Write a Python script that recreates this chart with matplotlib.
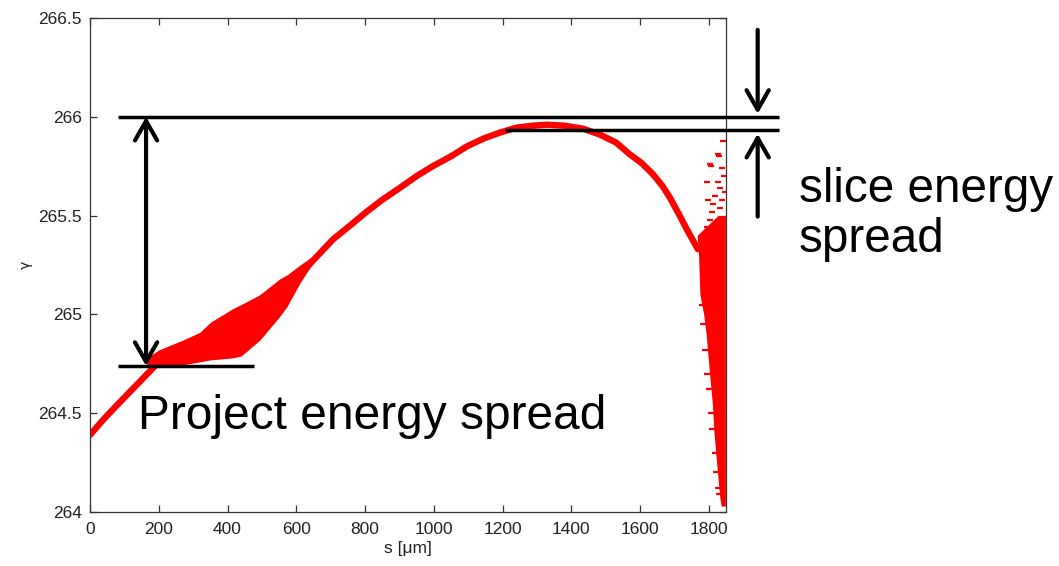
import matplotlib
matplotlib.use("Agg")
import matplotlib.pyplot as plt
from matplotlib.ticker import FuncFormatter

# ---------------- data ----------------
# centre line of the thin beam band: s [um], gamma
s_center = [0, 40, 78, 145, 195, 300, 450, 550, 631, 707, 760, 805, 850, 901,
            950, 997, 1050, 1096, 1145, 1192, 1240, 1288, 1329, 1380, 1434,
            1483, 1530, 1570, 1605, 1637, 1665, 1687, 1712, 1736, 1752, 1768]
g_center = [264.39, 264.47, 264.54, 264.66, 264.75, 264.83, 264.98, 265.10,
            265.24, 265.38, 265.455, 265.52, 265.58, 265.64, 265.70, 265.75,
            265.80, 265.85, 265.89, 265.92, 265.945, 265.955, 265.96, 265.955,
            265.94, 265.91, 265.87, 265.81, 265.765, 265.71, 265.65, 265.59,
            265.51, 265.43, 265.38, 265.33]

# broadened region (lower / upper envelope) around s = 170..710
s_bulge = [165, 200, 270, 320, 350, 416, 440, 494, 552, 573, 611, 660, 707]
g_bulge_low = [264.74, 264.73, 264.745, 264.76, 264.77, 264.78, 264.79,
               264.87, 264.99, 265.04, 265.16, 265.29, 265.37]
g_bulge_high = [264.78, 264.82, 264.87, 264.91, 264.96, 265.03, 265.05,
                265.10, 265.18, 265.20, 265.25, 265.31, 265.40]

# dense tail at the bunch head: gamma levels and left / right s edge
g_tail = [265.50, 265.40, 265.30, 265.10, 265.00, 264.90, 264.74, 264.55,
          264.40, 264.20, 264.07, 264.03]
s_tail_left = [1826, 1766, 1770, 1774, 1785, 1792, 1800, 1810, 1815, 1825,
               1832, 1836]
s_tail_right = [1848] * len(g_tail)

# sparse particles around the tail
s_sparse = [1841, 1826, 1830, 1803, 1805, 1838, 1794, 1826, 1832, 1817, 1797,
            1838, 1809, 1832, 1803, 1826, 1794, 1817, 1843, 1812, 1846,
            1780, 1783, 1790, 1795, 1800, 1806, 1810, 1818, 1822, 1826, 1830]
g_sparse = [265.88, 265.81, 265.80, 265.76, 265.75, 265.74, 265.67, 265.67,
            265.64, 265.60, 265.58, 265.58, 265.52, 265.54, 265.48, 265.46,
            265.44, 265.41, 265.70, 265.56, 265.62,
            265.05, 264.95, 264.82, 264.70, 264.62, 264.50, 264.42, 264.30,
            264.20, 264.12, 264.09]

# tick values
x_ticks = [0, 200, 400, 600, 800, 1000, 1200, 1400, 1600, 1800]
y_ticks = [264, 264.5, 265, 265.5, 266, 266.5]

# annotation levels
g_proj_top = 266.0
g_slice_low = 265.932
g_proj_low = 264.739

# ---------------- figure ----------------
fig = plt.figure(figsize=(10.59, 5.66), dpi=100)
ax = fig.add_axes([0.085, 0.0954, 0.6006, 0.8728])

red = "#ff0000"
ax.plot(s_center, g_center, color=red, lw=4.6, solid_capstyle="round",
        solid_joinstyle="round", zorder=2)
ax.fill_between(s_bulge, g_bulge_low, g_bulge_high, color=red, lw=0, zorder=2)
ax.fill_betweenx(g_tail, s_tail_left, s_tail_right, color=red, lw=0, zorder=2)
ax.plot(s_sparse, g_sparse, ls="none", marker="_", ms=5, mew=1.6, color=red,
        zorder=2)

ax.set_xlim(0, 1850)
ax.set_ylim(264, 266.5)
ax.set_xticks(x_ticks)
ax.set_yticks(y_ticks)
ax.yaxis.set_major_formatter(FuncFormatter(lambda v, p: "%g" % v))

tick_family = ["Liberation Sans", "DejaVu Sans"]
for lab in ax.get_xticklabels() + ax.get_yticklabels():
    lab.set_fontfamily(tick_family)
    lab.set_fontsize(12.5)
    lab.set_color("#222222")
ax.tick_params(direction="in", top=True, right=True, length=5, width=0.9,
               color="#333333")
ax.tick_params(axis="x", pad=7)
ax.tick_params(axis="y", pad=6)
for sp in ax.spines.values():
    sp.set_color("#333333")
    sp.set_linewidth(0.9)

ax.set_xlabel("s [μm]", fontsize=12.5, family=tick_family,
              color="#222222", labelpad=3)
ax.set_ylabel("γ", fontsize=10, family=["DejaVu Sans"], color="#222222",
              labelpad=4)

# ---------------- annotations ----------------
blk = "black"
ax.plot([81, 2003], [g_proj_top, g_proj_top], color=blk, lw=2.5,
        clip_on=False, zorder=3, solid_capstyle="butt")
ax.plot([1207, 2003], [g_slice_low, g_slice_low], color=blk, lw=2.5,
        clip_on=False, zorder=3, solid_capstyle="butt")
ax.plot([81, 477], [g_proj_low, g_proj_low], color=blk, lw=2.5,
        clip_on=False, zorder=3, solid_capstyle="butt")

head = "head_length=14,head_width=8"
ax.annotate("", xy=(163, g_proj_top), xytext=(163, g_proj_low),
            arrowprops=dict(arrowstyle="<->," + head, lw=3, color=blk,
                            shrinkA=0, shrinkB=0, mutation_scale=1),
            annotation_clip=False, zorder=4)
ax.annotate("", xy=(1942, 266.015), xytext=(1942, 266.44),
            arrowprops=dict(arrowstyle="->," + head, lw=3, color=blk,
                            shrinkA=0, shrinkB=0, mutation_scale=1),
            annotation_clip=False, zorder=4)
ax.annotate("", xy=(1942, 265.914), xytext=(1942, 265.495),
            arrowprops=dict(arrowstyle="->," + head, lw=3, color=blk,
                            shrinkA=0, shrinkB=0, mutation_scale=1),
            annotation_clip=False, zorder=4)

big = ["Liberation Sans", "DejaVu Sans"]
ax.text(2062, 265.318, "slice energy\nspread", fontsize=34.3, family=big,
        ha="left", va="baseline", linespacing=1.12, clip_on=False)
ax.text(140, 264.42, "Project energy spread", fontsize=34.5, family=big,
        ha="left", va="baseline", clip_on=False)

fig.savefig("out.png", dpi=100)
